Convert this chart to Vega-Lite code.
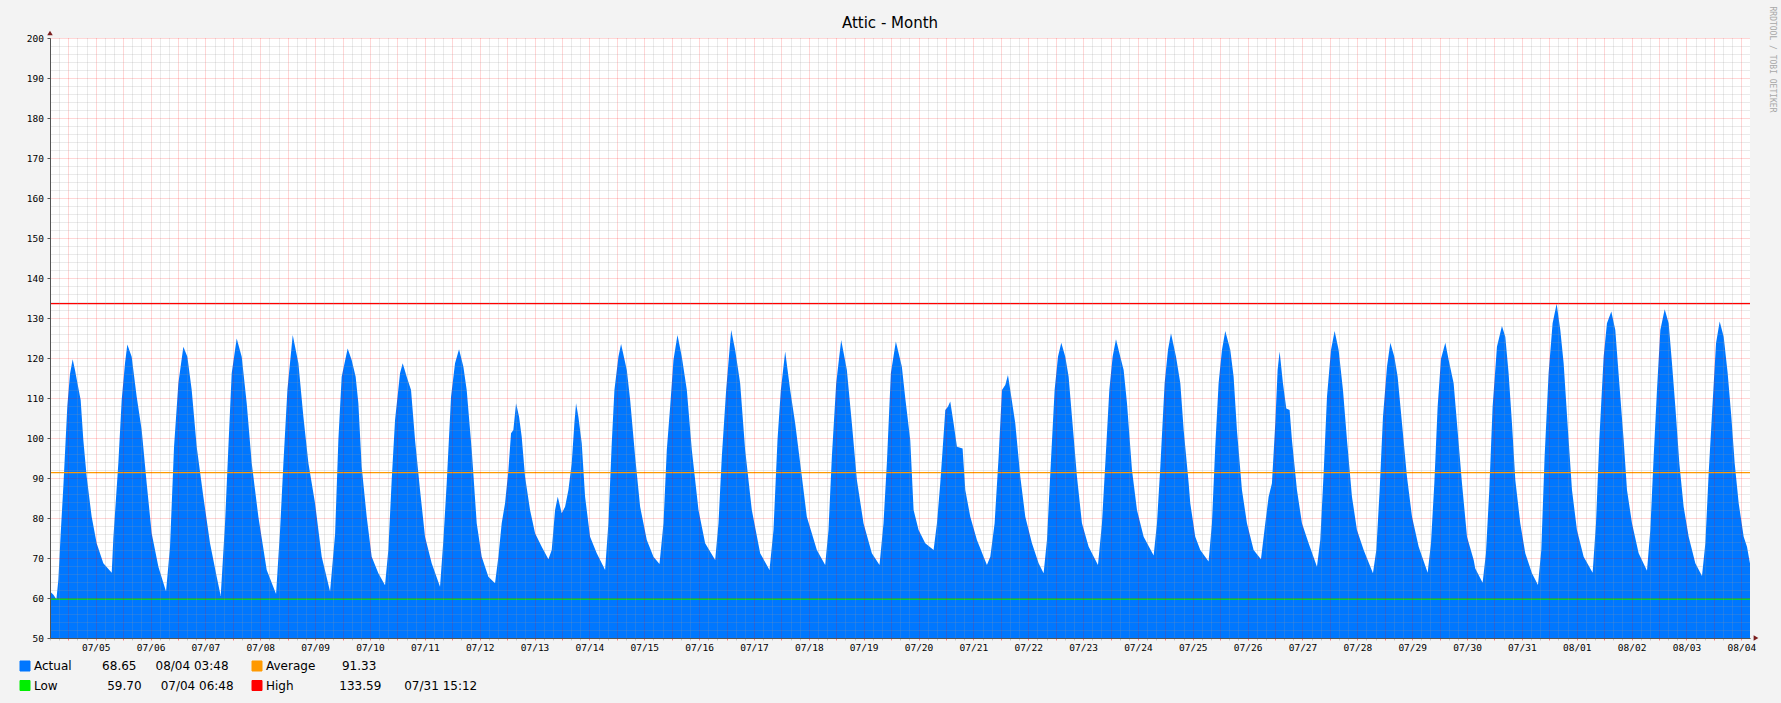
{
  "$schema": "https://vega.github.io/schema/vega-lite/v6.json",
  "width": 1700,
  "height": 600,
  "autosize": {"type": "none"},
  "padding": {"left": 50, "top": 38, "right": 31, "bottom": 65},
  "background": "#f3f3f3",
  "title": {
    "text": "Attic - Month",
    "font": "DejaVu Sans",
    "fontSize": 15,
    "fontWeight": "normal",
    "color": "#000000",
    "anchor": "middle",
    "frame": "group",
    "dx": -10,
    "baseline": "middle",
    "offset": -32
  },
  "layer": [
    {
      "data": {
        "values": [
          {"t": "2024-07-04T04:00", "v": 61.6}, {"t": "2024-07-04T05:30", "v": 60.8}, {"t": "2024-07-04T06:48", "v": 59.7},
          {"t": "2024-07-04T07:39", "v": 64.5}, {"t": "2024-07-04T08:40", "v": 76}, {"t": "2024-07-04T09:50", "v": 87.8},
          {"t": "2024-07-04T11:35", "v": 108}, {"t": "2024-07-04T12:45", "v": 116}, {"t": "2024-07-04T13:55", "v": 119.7},
          {"t": "2024-07-04T14:56", "v": 117}, {"t": "2024-07-04T15:58", "v": 113.8}, {"t": "2024-07-04T17:25", "v": 109.5},
          {"t": "2024-07-04T18:35", "v": 99.5}, {"t": "2024-07-04T20:03", "v": 90.3}, {"t": "2024-07-04T22:14", "v": 80.3},
          {"t": "2024-07-05T00:25", "v": 73.7}, {"t": "2024-07-05T03:20", "v": 68.7}, {"t": "2024-07-05T07:00", "v": 66.3},
          {"t": "2024-07-05T07:43", "v": 75}, {"t": "2024-07-05T09:54", "v": 93.7}, {"t": "2024-07-05T11:22", "v": 109.5},
          {"t": "2024-07-05T12:49", "v": 118.7}, {"t": "2024-07-05T13:50", "v": 123.4}, {"t": "2024-07-05T15:44", "v": 120.3},
          {"t": "2024-07-05T17:56", "v": 110.3}, {"t": "2024-07-05T20:07", "v": 102}, {"t": "2024-07-05T22:18", "v": 88.7},
          {"t": "2024-07-06T00:29", "v": 76.2}, {"t": "2024-07-06T03:25", "v": 67.8}, {"t": "2024-07-06T06:46", "v": 61.6},
          {"t": "2024-07-06T08:31", "v": 72.8}, {"t": "2024-07-06T10:16", "v": 97.8}, {"t": "2024-07-06T12:10", "v": 113.7},
          {"t": "2024-07-06T14:21", "v": 122.8}, {"t": "2024-07-06T16:06", "v": 120.3}, {"t": "2024-07-06T18:00", "v": 112},
          {"t": "2024-07-06T20:11", "v": 97.8}, {"t": "2024-07-06T23:06", "v": 85.3},
          {"t": "2024-07-07T02:01", "v": 73.7}, {"t": "2024-07-07T04:56", "v": 65.3}, {"t": "2024-07-07T06:41", "v": 60.5},
          {"t": "2024-07-07T08:35", "v": 78.7}, {"t": "2024-07-07T10:03", "v": 97.8}, {"t": "2024-07-07T11:30", "v": 116.2},
          {"t": "2024-07-07T13:41", "v": 124.9}, {"t": "2024-07-07T15:53", "v": 120.3}, {"t": "2024-07-07T18:04", "v": 108.7},
          {"t": "2024-07-07T20:16", "v": 93.7}, {"t": "2024-07-07T23:10", "v": 80.3},
          {"t": "2024-07-08T02:49", "v": 67}, {"t": "2024-07-08T06:55", "v": 61}, {"t": "2024-07-08T08:40", "v": 77},
          {"t": "2024-07-08T10:07", "v": 93.7}, {"t": "2024-07-08T11:52", "v": 112}, {"t": "2024-07-08T14:12", "v": 125.75},
          {"t": "2024-07-08T16:41", "v": 118.7}, {"t": "2024-07-08T18:52", "v": 105.3}, {"t": "2024-07-08T21:04", "v": 93.7},
          {"t": "2024-07-08T23:58", "v": 83.7},
          {"t": "2024-07-09T02:53", "v": 70.3}, {"t": "2024-07-09T06:32", "v": 61.6}, {"t": "2024-07-09T08:44", "v": 76},
          {"t": "2024-07-09T10:10", "v": 99.5}, {"t": "2024-07-09T11:37", "v": 115.3}, {"t": "2024-07-09T14:14", "v": 122.4},
          {"t": "2024-07-09T15:59", "v": 119.5}, {"t": "2024-07-09T17:44", "v": 115.3}, {"t": "2024-07-09T18:55", "v": 108.7},
          {"t": "2024-07-09T20:22", "v": 92.8}, {"t": "2024-07-09T22:34", "v": 80.3},
          {"t": "2024-07-10T00:45", "v": 70.3}, {"t": "2024-07-10T03:40", "v": 66.2}, {"t": "2024-07-10T06:35", "v": 63.2},
          {"t": "2024-07-10T08:02", "v": 72}, {"t": "2024-07-10T09:30", "v": 89.5}, {"t": "2024-07-10T10:58", "v": 104.5},
          {"t": "2024-07-10T13:09", "v": 116.2}, {"t": "2024-07-10T14:19", "v": 118.7}, {"t": "2024-07-10T16:04", "v": 115.3},
          {"t": "2024-07-10T17:58", "v": 112}, {"t": "2024-07-10T19:43", "v": 99.5}, {"t": "2024-07-10T21:54", "v": 87},
          {"t": "2024-07-11T00:05", "v": 75.3}, {"t": "2024-07-11T03:00", "v": 68.7}, {"t": "2024-07-11T06:39", "v": 62.8},
          {"t": "2024-07-11T08:07", "v": 74.5}, {"t": "2024-07-11T09:34", "v": 88.7}, {"t": "2024-07-11T11:28", "v": 110.3},
          {"t": "2024-07-11T13:13", "v": 118.7}, {"t": "2024-07-11T14:58", "v": 122.2}, {"t": "2024-07-11T16:52", "v": 117.8},
          {"t": "2024-07-11T18:19", "v": 112}, {"t": "2024-07-11T20:31", "v": 97}, {"t": "2024-07-11T22:42", "v": 78.7},
          {"t": "2024-07-12T00:53", "v": 70.3}, {"t": "2024-07-12T03:48", "v": 65.3}, {"t": "2024-07-12T06:43", "v": 63.7},
          {"t": "2024-07-12T08:11", "v": 70.3}, {"t": "2024-07-12T09:38", "v": 78.7}, {"t": "2024-07-12T11:06", "v": 83.7},
          {"t": "2024-07-12T12:34", "v": 92}, {"t": "2024-07-12T13:43", "v": 101.2}, {"t": "2024-07-12T14:44", "v": 102},
          {"t": "2024-07-12T15:55", "v": 108.7}, {"t": "2024-07-12T17:14", "v": 105.3}, {"t": "2024-07-12T18:23", "v": 100.3},
          {"t": "2024-07-12T19:51", "v": 90.3}, {"t": "2024-07-12T22:02", "v": 82},
          {"t": "2024-07-13T00:14", "v": 76.2}, {"t": "2024-07-13T03:08", "v": 72.8}, {"t": "2024-07-13T06:04", "v": 69.7},
          {"t": "2024-07-13T07:31", "v": 72}, {"t": "2024-07-13T08:59", "v": 82}, {"t": "2024-07-13T10:09", "v": 85.3},
          {"t": "2024-07-13T11:54", "v": 81.2}, {"t": "2024-07-13T13:22", "v": 82.8}, {"t": "2024-07-13T14:49", "v": 87},
          {"t": "2024-07-13T16:16", "v": 93.7}, {"t": "2024-07-13T17:26", "v": 103.7}, {"t": "2024-07-13T18:10", "v": 108.7},
          {"t": "2024-07-13T19:11", "v": 105.3}, {"t": "2024-07-13T20:39", "v": 98.7}, {"t": "2024-07-13T22:07", "v": 85.3},
          {"t": "2024-07-14T00:18", "v": 75.3}, {"t": "2024-07-14T03:13", "v": 71.2}, {"t": "2024-07-14T05:25", "v": 68.7},
          {"t": "2024-07-14T06:52", "v": 67}, {"t": "2024-07-14T08:19", "v": 78.7}, {"t": "2024-07-14T09:47", "v": 98.7},
          {"t": "2024-07-14T10:57", "v": 112}, {"t": "2024-07-14T12:42", "v": 120.3}, {"t": "2024-07-14T13:52", "v": 123.5},
          {"t": "2024-07-14T16:22", "v": 117}, {"t": "2024-07-14T17:50", "v": 109.5}, {"t": "2024-07-14T20:01", "v": 95.3},
          {"t": "2024-07-14T22:12", "v": 82.8},
          {"t": "2024-07-15T01:07", "v": 74.5}, {"t": "2024-07-15T04:02", "v": 70.3}, {"t": "2024-07-15T06:40", "v": 68.5},
          {"t": "2024-07-15T08:25", "v": 78.7}, {"t": "2024-07-15T09:52", "v": 97}, {"t": "2024-07-15T11:20", "v": 107.8},
          {"t": "2024-07-15T12:47", "v": 119.5}, {"t": "2024-07-15T14:32", "v": 125.75}, {"t": "2024-07-15T16:26", "v": 120.3},
          {"t": "2024-07-15T18:38", "v": 112}, {"t": "2024-07-15T20:49", "v": 97}, {"t": "2024-07-15T23:44", "v": 82},
          {"t": "2024-07-16T02:39", "v": 73.7}, {"t": "2024-07-16T07:02", "v": 69.5}, {"t": "2024-07-16T08:29", "v": 78.7},
          {"t": "2024-07-16T09:56", "v": 95.3}, {"t": "2024-07-16T11:50", "v": 112}, {"t": "2024-07-16T14:02", "v": 127},
          {"t": "2024-07-16T15:47", "v": 122}, {"t": "2024-07-16T17:58", "v": 113.7}, {"t": "2024-07-16T20:09", "v": 97},
          {"t": "2024-07-16T23:04", "v": 82},
          {"t": "2024-07-17T02:43", "v": 71.2}, {"t": "2024-07-17T06:48", "v": 67}, {"t": "2024-07-17T08:33", "v": 77},
          {"t": "2024-07-17T10:18", "v": 99.5}, {"t": "2024-07-17T11:46", "v": 112}, {"t": "2024-07-17T13:40", "v": 121.6},
          {"t": "2024-07-17T15:51", "v": 112}, {"t": "2024-07-17T18:02", "v": 103.7}, {"t": "2024-07-17T20:14", "v": 93.7},
          {"t": "2024-07-17T23:08", "v": 80.3},
          {"t": "2024-07-18T03:31", "v": 72}, {"t": "2024-07-18T07:10", "v": 68.25}, {"t": "2024-07-18T08:37", "v": 77},
          {"t": "2024-07-18T10:05", "v": 95.3}, {"t": "2024-07-18T11:59", "v": 113.7}, {"t": "2024-07-18T14:10", "v": 124.5},
          {"t": "2024-07-18T16:39", "v": 117}, {"t": "2024-07-18T18:50", "v": 103.7}, {"t": "2024-07-18T21:02", "v": 89.5},
          {"t": "2024-07-18T23:56", "v": 78.7},
          {"t": "2024-07-19T03:35", "v": 71.2}, {"t": "2024-07-19T06:56", "v": 68.25}, {"t": "2024-07-19T08:41", "v": 78.7},
          {"t": "2024-07-19T10:09", "v": 93.7}, {"t": "2024-07-19T11:54", "v": 116.2}, {"t": "2024-07-19T14:05", "v": 124.1},
          {"t": "2024-07-19T16:43", "v": 117.8}, {"t": "2024-07-19T18:12", "v": 110}, {"t": "2024-07-19T20:23", "v": 99.5},
          {"t": "2024-07-19T21:51", "v": 82},
          {"t": "2024-07-20T00:02", "v": 77}, {"t": "2024-07-20T02:57", "v": 73.7}, {"t": "2024-07-20T06:36", "v": 72},
          {"t": "2024-07-20T08:04", "v": 78.7}, {"t": "2024-07-20T09:31", "v": 88.7}, {"t": "2024-07-20T10:32", "v": 97},
          {"t": "2024-07-20T11:43", "v": 107}, {"t": "2024-07-20T12:52", "v": 107.8}, {"t": "2024-07-20T13:53", "v": 109.1},
          {"t": "2024-07-20T15:21", "v": 103.7}, {"t": "2024-07-20T16:49", "v": 97.8}, {"t": "2024-07-20T19:17", "v": 97.4},
          {"t": "2024-07-20T20:28", "v": 87}, {"t": "2024-07-20T22:39", "v": 80.3},
          {"t": "2024-07-21T01:34", "v": 74.5}, {"t": "2024-07-21T04:29", "v": 70.3}, {"t": "2024-07-21T05:56", "v": 68.25},
          {"t": "2024-07-21T07:24", "v": 70.3}, {"t": "2024-07-21T09:18", "v": 78.7}, {"t": "2024-07-21T11:03", "v": 95.3},
          {"t": "2024-07-21T12:31", "v": 112}, {"t": "2024-07-21T13:58", "v": 113.25}, {"t": "2024-07-21T15:08", "v": 115.75},
          {"t": "2024-07-21T16:35", "v": 110.3}, {"t": "2024-07-21T18:20", "v": 103.7}, {"t": "2024-07-21T20:32", "v": 90.3},
          {"t": "2024-07-21T22:43", "v": 80.3},
          {"t": "2024-07-22T01:38", "v": 73.7}, {"t": "2024-07-22T04:33", "v": 68.7}, {"t": "2024-07-22T06:44", "v": 66.2},
          {"t": "2024-07-22T08:12", "v": 74.5}, {"t": "2024-07-22T09:40", "v": 91.2}, {"t": "2024-07-22T11:33", "v": 112},
          {"t": "2024-07-22T13:01", "v": 120.3}, {"t": "2024-07-22T14:28", "v": 123.8}, {"t": "2024-07-22T16:13", "v": 120.3},
          {"t": "2024-07-22T17:41", "v": 115.3}, {"t": "2024-07-22T19:08", "v": 105.3}, {"t": "2024-07-22T21:20", "v": 90.3},
          {"t": "2024-07-22T23:31", "v": 78.7},
          {"t": "2024-07-23T02:26", "v": 72.8}, {"t": "2024-07-23T06:31", "v": 68.25}, {"t": "2024-07-23T08:16", "v": 78.7},
          {"t": "2024-07-23T09:44", "v": 93.7}, {"t": "2024-07-23T11:29", "v": 112}, {"t": "2024-07-23T12:56", "v": 120.3},
          {"t": "2024-07-23T14:24", "v": 124.7}, {"t": "2024-07-23T16:17", "v": 120.3}, {"t": "2024-07-23T17:45", "v": 117},
          {"t": "2024-07-23T19:13", "v": 108.7}, {"t": "2024-07-23T21:24", "v": 92}, {"t": "2024-07-23T23:35", "v": 82},
          {"t": "2024-07-24T02:30", "v": 75.3}, {"t": "2024-07-24T06:53", "v": 70.6}, {"t": "2024-07-24T08:20", "v": 78.7},
          {"t": "2024-07-24T09:48", "v": 92.8}, {"t": "2024-07-24T11:41", "v": 113.7}, {"t": "2024-07-24T13:09", "v": 122},
          {"t": "2024-07-24T14:28", "v": 126.2}, {"t": "2024-07-24T16:40", "v": 120.3}, {"t": "2024-07-24T18:33", "v": 113.7},
          {"t": "2024-07-24T20:01", "v": 102}, {"t": "2024-07-24T22:12", "v": 88.7}, {"t": "2024-07-24T22:54", "v": 83.7},
          {"t": "2024-07-25T01:05", "v": 75.3}, {"t": "2024-07-25T03:17", "v": 72}, {"t": "2024-07-25T06:55", "v": 69.1},
          {"t": "2024-07-25T08:23", "v": 78.7}, {"t": "2024-07-25T09:50", "v": 97.8}, {"t": "2024-07-25T11:18", "v": 113.7},
          {"t": "2024-07-25T12:46", "v": 122}, {"t": "2024-07-25T14:13", "v": 126.75}, {"t": "2024-07-25T16:25", "v": 122},
          {"t": "2024-07-25T17:52", "v": 115.3}, {"t": "2024-07-25T19:19", "v": 102}, {"t": "2024-07-25T21:31", "v": 87},
          {"t": "2024-07-25T23:42", "v": 78.7},
          {"t": "2024-07-26T02:37", "v": 72}, {"t": "2024-07-26T05:50", "v": 69.7}, {"t": "2024-07-26T07:43", "v": 78.7},
          {"t": "2024-07-26T09:11", "v": 85.3}, {"t": "2024-07-26T10:38", "v": 88.7}, {"t": "2024-07-26T12:06", "v": 103.7},
          {"t": "2024-07-26T13:07", "v": 117}, {"t": "2024-07-26T14:00", "v": 121.6}, {"t": "2024-07-26T15:27", "v": 113.7},
          {"t": "2024-07-26T16:55", "v": 107.4}, {"t": "2024-07-26T18:22", "v": 107}, {"t": "2024-07-26T19:23", "v": 99.5},
          {"t": "2024-07-26T21:35", "v": 87}, {"t": "2024-07-26T23:46", "v": 78.7},
          {"t": "2024-07-27T02:41", "v": 73.7}, {"t": "2024-07-27T06:20", "v": 67.8}, {"t": "2024-07-27T07:47", "v": 74.5},
          {"t": "2024-07-27T09:15", "v": 91.2}, {"t": "2024-07-27T10:43", "v": 110.3}, {"t": "2024-07-27T12:28", "v": 122},
          {"t": "2024-07-27T14:04", "v": 126.75}, {"t": "2024-07-27T15:49", "v": 122}, {"t": "2024-07-27T17:43", "v": 112},
          {"t": "2024-07-27T19:28", "v": 99.5}, {"t": "2024-07-27T21:39", "v": 85.3}, {"t": "2024-07-27T23:50", "v": 77},
          {"t": "2024-07-28T02:46", "v": 72}, {"t": "2024-07-28T06:50", "v": 66.2}, {"t": "2024-07-28T08:18", "v": 72},
          {"t": "2024-07-28T09:46", "v": 87}, {"t": "2024-07-28T11:13", "v": 105.3}, {"t": "2024-07-28T12:58", "v": 117.8},
          {"t": "2024-07-28T14:26", "v": 123.8}, {"t": "2024-07-28T16:11", "v": 120.3}, {"t": "2024-07-28T17:38", "v": 115.3},
          {"t": "2024-07-28T19:32", "v": 103.7}, {"t": "2024-07-28T21:43", "v": 90.3}, {"t": "2024-07-28T23:55", "v": 80.3},
          {"t": "2024-07-29T02:50", "v": 72.8}, {"t": "2024-07-29T06:46", "v": 66.3}, {"t": "2024-07-29T08:13", "v": 73.7},
          {"t": "2024-07-29T09:41", "v": 88.7}, {"t": "2024-07-29T11:08", "v": 107.8}, {"t": "2024-07-29T12:36", "v": 119.8},
          {"t": "2024-07-29T14:30", "v": 123.8}, {"t": "2024-07-29T15:58", "v": 119.5}, {"t": "2024-07-29T18:08", "v": 113.7},
          {"t": "2024-07-29T19:36", "v": 103.7}, {"t": "2024-07-29T21:47", "v": 88.7}, {"t": "2024-07-29T23:59", "v": 75.3},
          {"t": "2024-07-30T02:54", "v": 69.5}, {"t": "2024-07-30T03:36", "v": 67.4}, {"t": "2024-07-30T06:49", "v": 63.8},
          {"t": "2024-07-30T08:16", "v": 71.2}, {"t": "2024-07-30T09:44", "v": 87}, {"t": "2024-07-30T11:11", "v": 107.8},
          {"t": "2024-07-30T13:05", "v": 122.8}, {"t": "2024-07-30T15:16", "v": 128}, {"t": "2024-07-30T16:44", "v": 125.3},
          {"t": "2024-07-30T18:11", "v": 116.2}, {"t": "2024-07-30T19:39", "v": 103.7}, {"t": "2024-07-30T21:07", "v": 89.5},
          {"t": "2024-07-30T23:17", "v": 78.7},
          {"t": "2024-07-31T01:29", "v": 71.2}, {"t": "2024-07-31T04:24", "v": 66.2}, {"t": "2024-07-31T07:02", "v": 63.25},
          {"t": "2024-07-31T08:29", "v": 72}, {"t": "2024-07-31T09:56", "v": 95.3}, {"t": "2024-07-31T11:41", "v": 116.2},
          {"t": "2024-07-31T13:26", "v": 128.7}, {"t": "2024-07-31T15:12", "v": 133.59}, {"t": "2024-07-31T16:48", "v": 127},
          {"t": "2024-07-31T18:16", "v": 118.7}, {"t": "2024-07-31T20:09", "v": 102}, {"t": "2024-07-31T21:55", "v": 87},
          {"t": "2024-08-01T00:05", "v": 77}, {"t": "2024-08-01T03:01", "v": 70.3}, {"t": "2024-08-01T06:57", "v": 66.3},
          {"t": "2024-08-01T08:25", "v": 78.7}, {"t": "2024-08-01T09:52", "v": 99.5}, {"t": "2024-08-01T11:46", "v": 120.3},
          {"t": "2024-08-01T13:13", "v": 128.7}, {"t": "2024-08-01T15:07", "v": 131.6}, {"t": "2024-08-01T16:52", "v": 127},
          {"t": "2024-08-01T18:37", "v": 113.7}, {"t": "2024-08-01T20:31", "v": 99.5}, {"t": "2024-08-01T21:59", "v": 87},
          {"t": "2024-08-02T00:10", "v": 78.7}, {"t": "2024-08-02T03:05", "v": 71.2}, {"t": "2024-08-02T06:44", "v": 66.8},
          {"t": "2024-08-02T08:11", "v": 77}, {"t": "2024-08-02T09:39", "v": 95.3}, {"t": "2024-08-02T11:06", "v": 112},
          {"t": "2024-08-02T12:34", "v": 127}, {"t": "2024-08-02T14:28", "v": 132.2}, {"t": "2024-08-02T16:13", "v": 128.7},
          {"t": "2024-08-02T17:40", "v": 118.7}, {"t": "2024-08-02T19:08", "v": 107.8}, {"t": "2024-08-02T20:53", "v": 93.7},
          {"t": "2024-08-02T22:46", "v": 82.8},
          {"t": "2024-08-03T00:58", "v": 75.3}, {"t": "2024-08-03T03:53", "v": 68.7}, {"t": "2024-08-03T06:48", "v": 65.5},
          {"t": "2024-08-03T08:16", "v": 73.7}, {"t": "2024-08-03T09:43", "v": 91.2}, {"t": "2024-08-03T11:11", "v": 106.2},
          {"t": "2024-08-03T12:56", "v": 123.7}, {"t": "2024-08-03T14:32", "v": 129.1}, {"t": "2024-08-03T16:17", "v": 125.3},
          {"t": "2024-08-03T18:02", "v": 116.2}, {"t": "2024-08-03T19:38", "v": 105.3}, {"t": "2024-08-03T21:06", "v": 93.7},
          {"t": "2024-08-03T22:51", "v": 83.7},
          {"t": "2024-08-04T01:02", "v": 75.3}, {"t": "2024-08-04T02:29", "v": 72.8}, {"t": "2024-08-04T03:31", "v": 69.5},
          {"t": "2024-08-04T03:48", "v": 68.65}
        ]
      },
      "mark": {"type": "area", "interpolate": "linear", "clip": true},
      "encoding": {
        "x": {
          "field": "t",
          "type": "temporal",
          "scale": {"nice": false},
          "axis": {
            "title": null,
            "zindex": 1,
            "tickCount": 500,
            "values": [
              {"year": 2024, "month": 7, "date": 4, "hours": 4}, {"year": 2024, "month": 7, "date": 4, "hours": 8}, {"year": 2024, "month": 7, "date": 4, "hours": 12}, {"year": 2024, "month": 7, "date": 4, "hours": 16}, {"year": 2024, "month": 7, "date": 4, "hours": 20},
              {"year": 2024, "month": 7, "date": 5, "hours": 0}, {"year": 2024, "month": 7, "date": 5, "hours": 4}, {"year": 2024, "month": 7, "date": 5, "hours": 8}, {"year": 2024, "month": 7, "date": 5, "hours": 12}, {"year": 2024, "month": 7, "date": 5, "hours": 16}, {"year": 2024, "month": 7, "date": 5, "hours": 20},
              {"year": 2024, "month": 7, "date": 6, "hours": 0}, {"year": 2024, "month": 7, "date": 6, "hours": 4}, {"year": 2024, "month": 7, "date": 6, "hours": 8}, {"year": 2024, "month": 7, "date": 6, "hours": 12}, {"year": 2024, "month": 7, "date": 6, "hours": 16}, {"year": 2024, "month": 7, "date": 6, "hours": 20},
              {"year": 2024, "month": 7, "date": 7, "hours": 0}, {"year": 2024, "month": 7, "date": 7, "hours": 4}, {"year": 2024, "month": 7, "date": 7, "hours": 8}, {"year": 2024, "month": 7, "date": 7, "hours": 12}, {"year": 2024, "month": 7, "date": 7, "hours": 16}, {"year": 2024, "month": 7, "date": 7, "hours": 20},
              {"year": 2024, "month": 7, "date": 8, "hours": 0}, {"year": 2024, "month": 7, "date": 8, "hours": 4}, {"year": 2024, "month": 7, "date": 8, "hours": 8}, {"year": 2024, "month": 7, "date": 8, "hours": 12}, {"year": 2024, "month": 7, "date": 8, "hours": 16}, {"year": 2024, "month": 7, "date": 8, "hours": 20},
              {"year": 2024, "month": 7, "date": 9, "hours": 0}, {"year": 2024, "month": 7, "date": 9, "hours": 4}, {"year": 2024, "month": 7, "date": 9, "hours": 8}, {"year": 2024, "month": 7, "date": 9, "hours": 12}, {"year": 2024, "month": 7, "date": 9, "hours": 16}, {"year": 2024, "month": 7, "date": 9, "hours": 20},
              {"year": 2024, "month": 7, "date": 10, "hours": 0}, {"year": 2024, "month": 7, "date": 10, "hours": 4}, {"year": 2024, "month": 7, "date": 10, "hours": 8}, {"year": 2024, "month": 7, "date": 10, "hours": 12}, {"year": 2024, "month": 7, "date": 10, "hours": 16}, {"year": 2024, "month": 7, "date": 10, "hours": 20},
              {"year": 2024, "month": 7, "date": 11, "hours": 0}, {"year": 2024, "month": 7, "date": 11, "hours": 4}, {"year": 2024, "month": 7, "date": 11, "hours": 8}, {"year": 2024, "month": 7, "date": 11, "hours": 12}, {"year": 2024, "month": 7, "date": 11, "hours": 16}, {"year": 2024, "month": 7, "date": 11, "hours": 20},
              {"year": 2024, "month": 7, "date": 12, "hours": 0}, {"year": 2024, "month": 7, "date": 12, "hours": 4}, {"year": 2024, "month": 7, "date": 12, "hours": 8}, {"year": 2024, "month": 7, "date": 12, "hours": 12}, {"year": 2024, "month": 7, "date": 12, "hours": 16}, {"year": 2024, "month": 7, "date": 12, "hours": 20},
              {"year": 2024, "month": 7, "date": 13, "hours": 0}, {"year": 2024, "month": 7, "date": 13, "hours": 4}, {"year": 2024, "month": 7, "date": 13, "hours": 8}, {"year": 2024, "month": 7, "date": 13, "hours": 12}, {"year": 2024, "month": 7, "date": 13, "hours": 16}, {"year": 2024, "month": 7, "date": 13, "hours": 20},
              {"year": 2024, "month": 7, "date": 14, "hours": 0}, {"year": 2024, "month": 7, "date": 14, "hours": 4}, {"year": 2024, "month": 7, "date": 14, "hours": 8}, {"year": 2024, "month": 7, "date": 14, "hours": 12}, {"year": 2024, "month": 7, "date": 14, "hours": 16}, {"year": 2024, "month": 7, "date": 14, "hours": 20},
              {"year": 2024, "month": 7, "date": 15, "hours": 0}, {"year": 2024, "month": 7, "date": 15, "hours": 4}, {"year": 2024, "month": 7, "date": 15, "hours": 8}, {"year": 2024, "month": 7, "date": 15, "hours": 12}, {"year": 2024, "month": 7, "date": 15, "hours": 16}, {"year": 2024, "month": 7, "date": 15, "hours": 20},
              {"year": 2024, "month": 7, "date": 16, "hours": 0}, {"year": 2024, "month": 7, "date": 16, "hours": 4}, {"year": 2024, "month": 7, "date": 16, "hours": 8}, {"year": 2024, "month": 7, "date": 16, "hours": 12}, {"year": 2024, "month": 7, "date": 16, "hours": 16}, {"year": 2024, "month": 7, "date": 16, "hours": 20},
              {"year": 2024, "month": 7, "date": 17, "hours": 0}, {"year": 2024, "month": 7, "date": 17, "hours": 4}, {"year": 2024, "month": 7, "date": 17, "hours": 8}, {"year": 2024, "month": 7, "date": 17, "hours": 12}, {"year": 2024, "month": 7, "date": 17, "hours": 16}, {"year": 2024, "month": 7, "date": 17, "hours": 20},
              {"year": 2024, "month": 7, "date": 18, "hours": 0}, {"year": 2024, "month": 7, "date": 18, "hours": 4}, {"year": 2024, "month": 7, "date": 18, "hours": 8}, {"year": 2024, "month": 7, "date": 18, "hours": 12}, {"year": 2024, "month": 7, "date": 18, "hours": 16}, {"year": 2024, "month": 7, "date": 18, "hours": 20},
              {"year": 2024, "month": 7, "date": 19, "hours": 0}, {"year": 2024, "month": 7, "date": 19, "hours": 4}, {"year": 2024, "month": 7, "date": 19, "hours": 8}, {"year": 2024, "month": 7, "date": 19, "hours": 12}, {"year": 2024, "month": 7, "date": 19, "hours": 16}, {"year": 2024, "month": 7, "date": 19, "hours": 20},
              {"year": 2024, "month": 7, "date": 20, "hours": 0}, {"year": 2024, "month": 7, "date": 20, "hours": 4}, {"year": 2024, "month": 7, "date": 20, "hours": 8}, {"year": 2024, "month": 7, "date": 20, "hours": 12}, {"year": 2024, "month": 7, "date": 20, "hours": 16}, {"year": 2024, "month": 7, "date": 20, "hours": 20},
              {"year": 2024, "month": 7, "date": 21, "hours": 0}, {"year": 2024, "month": 7, "date": 21, "hours": 4}, {"year": 2024, "month": 7, "date": 21, "hours": 8}, {"year": 2024, "month": 7, "date": 21, "hours": 12}, {"year": 2024, "month": 7, "date": 21, "hours": 16}, {"year": 2024, "month": 7, "date": 21, "hours": 20},
              {"year": 2024, "month": 7, "date": 22, "hours": 0}, {"year": 2024, "month": 7, "date": 22, "hours": 4}, {"year": 2024, "month": 7, "date": 22, "hours": 8}, {"year": 2024, "month": 7, "date": 22, "hours": 12}, {"year": 2024, "month": 7, "date": 22, "hours": 16}, {"year": 2024, "month": 7, "date": 22, "hours": 20},
              {"year": 2024, "month": 7, "date": 23, "hours": 0}, {"year": 2024, "month": 7, "date": 23, "hours": 4}, {"year": 2024, "month": 7, "date": 23, "hours": 8}, {"year": 2024, "month": 7, "date": 23, "hours": 12}, {"year": 2024, "month": 7, "date": 23, "hours": 16}, {"year": 2024, "month": 7, "date": 23, "hours": 20},
              {"year": 2024, "month": 7, "date": 24, "hours": 0}, {"year": 2024, "month": 7, "date": 24, "hours": 4}, {"year": 2024, "month": 7, "date": 24, "hours": 8}, {"year": 2024, "month": 7, "date": 24, "hours": 12}, {"year": 2024, "month": 7, "date": 24, "hours": 16}, {"year": 2024, "month": 7, "date": 24, "hours": 20},
              {"year": 2024, "month": 7, "date": 25, "hours": 0}, {"year": 2024, "month": 7, "date": 25, "hours": 4}, {"year": 2024, "month": 7, "date": 25, "hours": 8}, {"year": 2024, "month": 7, "date": 25, "hours": 12}, {"year": 2024, "month": 7, "date": 25, "hours": 16}, {"year": 2024, "month": 7, "date": 25, "hours": 20},
              {"year": 2024, "month": 7, "date": 26, "hours": 0}, {"year": 2024, "month": 7, "date": 26, "hours": 4}, {"year": 2024, "month": 7, "date": 26, "hours": 8}, {"year": 2024, "month": 7, "date": 26, "hours": 12}, {"year": 2024, "month": 7, "date": 26, "hours": 16}, {"year": 2024, "month": 7, "date": 26, "hours": 20},
              {"year": 2024, "month": 7, "date": 27, "hours": 0}, {"year": 2024, "month": 7, "date": 27, "hours": 4}, {"year": 2024, "month": 7, "date": 27, "hours": 8}, {"year": 2024, "month": 7, "date": 27, "hours": 12}, {"year": 2024, "month": 7, "date": 27, "hours": 16}, {"year": 2024, "month": 7, "date": 27, "hours": 20},
              {"year": 2024, "month": 7, "date": 28, "hours": 0}, {"year": 2024, "month": 7, "date": 28, "hours": 4}, {"year": 2024, "month": 7, "date": 28, "hours": 8}, {"year": 2024, "month": 7, "date": 28, "hours": 12}, {"year": 2024, "month": 7, "date": 28, "hours": 16}, {"year": 2024, "month": 7, "date": 28, "hours": 20},
              {"year": 2024, "month": 7, "date": 29, "hours": 0}, {"year": 2024, "month": 7, "date": 29, "hours": 4}, {"year": 2024, "month": 7, "date": 29, "hours": 8}, {"year": 2024, "month": 7, "date": 29, "hours": 12}, {"year": 2024, "month": 7, "date": 29, "hours": 16}, {"year": 2024, "month": 7, "date": 29, "hours": 20},
              {"year": 2024, "month": 7, "date": 30, "hours": 0}, {"year": 2024, "month": 7, "date": 30, "hours": 4}, {"year": 2024, "month": 7, "date": 30, "hours": 8}, {"year": 2024, "month": 7, "date": 30, "hours": 12}, {"year": 2024, "month": 7, "date": 30, "hours": 16}, {"year": 2024, "month": 7, "date": 30, "hours": 20},
              {"year": 2024, "month": 7, "date": 31, "hours": 0}, {"year": 2024, "month": 7, "date": 31, "hours": 4}, {"year": 2024, "month": 7, "date": 31, "hours": 8}, {"year": 2024, "month": 7, "date": 31, "hours": 12}, {"year": 2024, "month": 7, "date": 31, "hours": 16}, {"year": 2024, "month": 7, "date": 31, "hours": 20},
              {"year": 2024, "month": 8, "date": 1, "hours": 0}, {"year": 2024, "month": 8, "date": 1, "hours": 4}, {"year": 2024, "month": 8, "date": 1, "hours": 8}, {"year": 2024, "month": 8, "date": 1, "hours": 12}, {"year": 2024, "month": 8, "date": 1, "hours": 16}, {"year": 2024, "month": 8, "date": 1, "hours": 20},
              {"year": 2024, "month": 8, "date": 2, "hours": 0}, {"year": 2024, "month": 8, "date": 2, "hours": 4}, {"year": 2024, "month": 8, "date": 2, "hours": 8}, {"year": 2024, "month": 8, "date": 2, "hours": 12}, {"year": 2024, "month": 8, "date": 2, "hours": 16}, {"year": 2024, "month": 8, "date": 2, "hours": 20},
              {"year": 2024, "month": 8, "date": 3, "hours": 0}, {"year": 2024, "month": 8, "date": 3, "hours": 4}, {"year": 2024, "month": 8, "date": 3, "hours": 8}, {"year": 2024, "month": 8, "date": 3, "hours": 12}, {"year": 2024, "month": 8, "date": 3, "hours": 16}, {"year": 2024, "month": 8, "date": 3, "hours": 20},
              {"year": 2024, "month": 8, "date": 4, "hours": 0}
            ],
            "grid": true,
            "gridDash": [1, 1],
            "gridColor": {"condition": {"test": "timeFormat(datum.value, '%H') == '00' || timeFormat(datum.value, '%H') == '12'", "value": "#ff0000"}, "value": "#9a9a9a"},
            "gridOpacity": {"condition": {"test": "timeFormat(datum.value, '%H') == '00' || timeFormat(datum.value, '%H') == '12'", "value": 0.32}, "value": 0.42},
            "ticks": true,
            "tickSize": 2,
            "tickColor": {"condition": {"test": "timeFormat(datum.value, '%H') == '00' || timeFormat(datum.value, '%H') == '12'", "value": "#ff8080"}, "value": "#c8c8c8"},
            "labelExpr": "timeFormat(datum.value, '%H') == '00' ? timeFormat(datum.value, '%m/%d') : ''",
            "labelFont": "DejaVu Sans Mono",
            "labelFontSize": 9.5,
            "labelColor": "#000000",
            "labelPadding": 2,
            "labelOverlap": false,
            "labelFlush": false,
            "domainColor": "#555555",
            "domainWidth": 1
          }
        },
        "y": {
          "field": "v",
          "type": "quantitative",
          "scale": {"domain": [50, 200], "nice": false, "zero": false},
          "axis": {
            "zindex": 1,
            "tickCount": 500,
            "format": "d",
            "values": [50, 52, 54, 56, 58, 60, 62, 64, 66, 68, 70, 72, 74, 76, 78, 80, 82, 84, 86, 88, 90, 92, 94, 96, 98, 100, 102, 104, 106, 108, 110, 112, 114, 116, 118, 120, 122, 124, 126, 128, 130, 132, 134, 136, 138, 140, 142, 144, 146, 148, 150, 152, 154, 156, 158, 160, 162, 164, 166, 168, 170, 172, 174, 176, 178, 180, 182, 184, 186, 188, 190, 192, 194, 196, 198, 200],
            "grid": true,
            "gridDash": [1, 1],
            "gridColor": {"condition": {"test": "datum.value % 10 == 0", "value": "#ff0000"}, "value": "#9a9a9a"},
            "gridOpacity": {"condition": {"test": "datum.value % 10 == 0", "value": 0.32}, "value": 0.42},
            "ticks": true,
            "tickSize": 3,
            "tickColor": {"condition": {"test": "datum.value % 10 == 0", "value": "#555555"}, "value": "transparent"},
            "labelExpr": "datum.value % 10 == 0 ? datum.label : ''",
            "labelFont": "DejaVu Sans Mono",
            "labelFontSize": 9.5,
            "labelColor": "#000000",
            "labelPadding": 3.5,
            "labelOverlap": false,
            "labelFlush": false,
            "domainColor": "#555555",
            "domainWidth": 1,
            "title": "RRDTOOL / TOBI OETIKER",
            "titleX": 1721,
            "titleY": 21,
            "titleAngle": 90,
            "titleAlign": "center",
            "titleBaseline": "middle",
            "titleFont": "DejaVu Sans Mono",
            "titleFontSize": 8,
            "titleFontWeight": "normal",
            "titleColor": "#a8a8a8"
          }
        },
        "color": {
          "datum": "Actual",
          "type": "nominal",
          "scale": {
            "domain": ["Actual", "Average", "Low", "High"],
            "range": ["#0077ff", "#ff9900", "#00ee00", "#ff0000"]
          },
          "legend": {
            "orient": "none",
            "legendX": -31,
            "legendY": 622,
            "padding": 0,
            "title": null,
            "direction": "horizontal",
            "columns": 2,
            "columnPadding": 16,
            "rowPadding": 5.5,
            "symbolType": "square",
            "symbolSize": 100,
            "symbolStrokeColor": "#000000",
            "symbolStrokeWidth": 1,
            "symbolOpacity": 1,
            "labelFont": "DejaVu Sans",
            "labelFontSize": 12,
            "labelColor": "#000000",
            "labelOffset": 3,
            "labelLimit": 400,
            "labelExpr": "datum.label == 'Actual' ? 'Actual\u00a0\u00a0\u00a0\u00a0\u00a0\u00a0\u00a0\u00a068.65\u00a0\u00a0\u00a0\u00a0\u00a008/04 03:48' : datum.label == 'Average' ? 'Average\u00a0\u00a0\u00a0\u00a0\u00a0\u00a0\u00a091.33' : datum.label == 'Low' ? 'Low\u00a0\u00a0\u00a0\u00a0\u00a0\u00a0\u00a0\u00a0\u00a0\u00a0\u00a0\u00a0\u00a059.70\u00a0\u00a0\u00a0\u00a0\u00a007/04 06:48' : 'High\u00a0\u00a0\u00a0\u00a0\u00a0\u00a0\u00a0\u00a0\u00a0\u00a0\u00a0\u00a0133.59\u00a0\u00a0\u00a0\u00a0\u00a0\u00a007/31 15:12'"
          }
        }
      }
    },
    {
      "data": {
        "values": [
          {"s": "Average", "v": 91.33},
          {"s": "Low", "v": 59.7},
          {"s": "High", "v": 133.59}
        ]
      },
      "mark": {"type": "rule", "strokeWidth": 1.2},
      "encoding": {
        "y": {"field": "v", "type": "quantitative"},
        "color": {"field": "s", "type": "nominal", "legend": null}
      }
    },
    {
      "data": {"values": [{"t": "2024-08-04T03:48", "v": 50}]},
      "mark": {"type": "point", "shape": "triangle-right", "filled": true, "size": 30, "color": "#7a1e1e", "opacity": 1, "xOffset": 6},
      "encoding": {
        "x": {"field": "t", "type": "temporal"},
        "y": {"field": "v", "type": "quantitative"}
      }
    },
    {
      "data": {"values": [{"t": "2024-07-04T04:00", "v": 200}]},
      "mark": {"type": "point", "shape": "triangle-up", "filled": true, "size": 30, "color": "#7a1e1e", "opacity": 1, "yOffset": -5},
      "encoding": {
        "x": {"field": "t", "type": "temporal"},
        "y": {"field": "v", "type": "quantitative"}
      }
    }
  ],
  "config": {"view": {"fill": "#ffffff", "stroke": null}}
}
